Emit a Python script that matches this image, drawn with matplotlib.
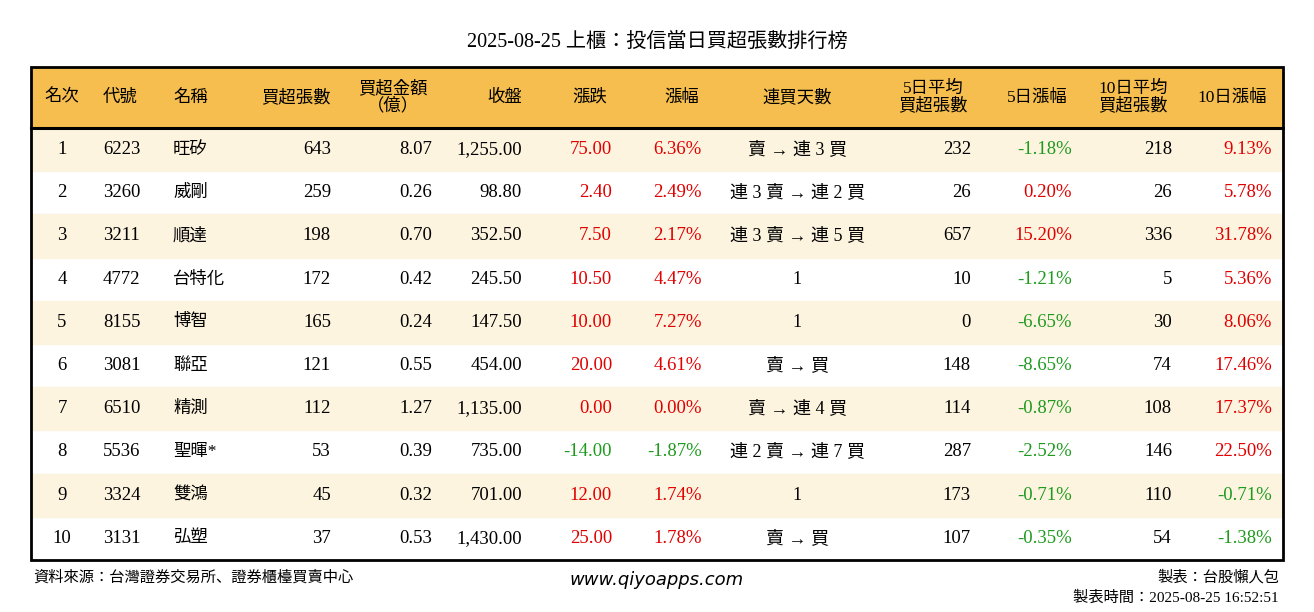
import matplotlib
matplotlib.use("Agg")
import matplotlib.pyplot as plt
from matplotlib.patches import Rectangle
from matplotlib import font_manager as fm

rank = [1,2,3,4,5,6,7,8,9,10]
codes = ["6223","3260","3211","4772","8155","3081","6510","5536","3324","3131"]
names = ["旺矽","威剛","順達","台特化","博智","聯亞","精測","聖暉*","雙鴻","弘塑"]
net_lots = [643,259,198,172,165,121,112,53,45,37]
net_amt = [8.07,0.26,0.70,0.42,0.24,0.55,1.27,0.39,0.32,0.53]
close = [1255.00,98.80,352.50,245.50,147.50,454.00,1135.00,735.00,701.00,1430.00]
change = [75.00,2.40,7.50,10.50,10.00,20.00,0.00,-14.00,12.00,25.00]
pct = [6.36,2.49,2.17,4.47,7.27,4.61,0.00,-1.87,1.74,1.78]
streak = ["賣 → 連 3 買","連 3 賣 → 連 2 買","連 3 賣 → 連 5 買","1","1","賣 → 買","賣 → 連 4 買","連 2 賣 → 連 7 買","1","賣 → 買"]
avg5 = [232,26,657,10,0,148,114,287,173,107]
pct5 = [-1.18,0.20,15.20,-1.21,-6.65,-8.65,-0.87,-2.52,-0.71,-0.35]
avg10 = [218,26,336,5,30,74,108,146,110,54]
pct10 = [9.13,5.78,31.78,5.36,8.06,17.46,17.37,22.50,-0.71,-1.38]
headers = ["名次","代號","名稱","買超張數","買超金額\n（億）","收盤","漲跌","漲幅","連買天數","5日平均\n買超張數","5日漲幅","10日平均\n買超張數","10日漲幅"]

names_avail = {f.name for f in fm.fontManager.ttflist}
cjk = [n for n in ["Noto Sans CJK TC","Noto Sans CJK SC","Noto Sans CJK JP","Noto Serif CJK TC"] if n in names_avail]
FONT = ["Liberation Serif"] + cjk + ["DejaVu Sans"]
plt.rcParams["font.family"] = FONT

W, H = 1314, 612
fig = plt.figure(figsize=(W/100, H/100), dpi=100)
ax = fig.add_axes([0,0,1,1])
ax.set_xlim(0, W); ax.set_ylim(H, 0); ax.axis("off")

RED, GREEN = "#E00000", "#1E9A1E"

def t(x, y, s, ha="left", color="black", size=13.5, **kw):
    ax.text(x, y, s, ha=ha, va="center", color=color, fontsize=size, **kw)

ax.text(W/2, 42, "2025-08-25 上櫃：投信當日買超張數排行榜", ha="center", va="center", fontsize=14.5)

L, R, T, HB, RH = 31, 1283, 67, 128, 43.2
ax.add_patch(Rectangle((L, T), R-L, HB-T, color="#F5BE4E", zorder=0))
for i in range(10):
    if i % 2 == 0:
        ax.add_patch(Rectangle((L, HB+i*RH), R-L, RH, color="#FDF4E0", zorder=0))
bottom = HB + 10*RH
ax.add_patch(Rectangle((L, T), R-L, bottom-T, fill=False, lw=2, ec="black", zorder=3))
ax.plot([L, R], [HB, HB], color="black", lw=2.2, zorder=3)

hpos = [(62,"center"),(103,"left"),(173,"left"),(331,"right"),(393,"center"),(522,"right"),(590,"center"),(682,"center"),(797,"center"),(933,"center"),(1037,"center"),(1133,"center"),(1232,"center")]
for (x, ha), h in zip(hpos, headers):
    ax.text(x, (T+HB)/2, h, ha=ha, va="center", fontsize=12.5, linespacing=1.0)

def sc(v):
    return RED if v >= 0 else GREEN

for i in range(10):
    y = HB + (i+0.5)*RH
    t(62, y, str(rank[i]), "center")
    t(103, y, codes[i])
    t(173, y, names[i], size=12.5)
    t(331, y, f"{net_lots[i]}", "right")
    t(432, y, f"{net_amt[i]:.2f}", "right")
    t(522, y, f"{close[i]:,.2f}", "right")
    t(612, y, f"{change[i]:.2f}", "right", sc(change[i]))
    t(702, y, f"{pct[i]:.2f}%", "right", sc(pct[i]))
    t(797, y, streak[i], "center", size=13)
    t(971, y, f"{avg5[i]}", "right")
    t(1072, y, f"{pct5[i]:.2f}%", "right", sc(pct5[i]))
    t(1172, y, f"{avg10[i]}", "right")
    t(1272, y, f"{pct10[i]:.2f}%", "right", sc(pct10[i]))

ax.text(33, 577, "資料來源：台灣證券交易所、證券櫃檯買賣中心", ha="left", va="center", fontsize=11)
ax.text(657, 580, "www.qiyoapps.com", ha="center", va="center", fontsize=13, style="italic", family="DejaVu Sans")
ax.text(1279, 577, "製表：台股懶人包", ha="right", va="center", fontsize=11)
ax.text(1279, 598, "製表時間：2025-08-25 16:52:51", ha="right", va="center", fontsize=11)

fig.savefig("out.png", dpi=100, facecolor="white")
